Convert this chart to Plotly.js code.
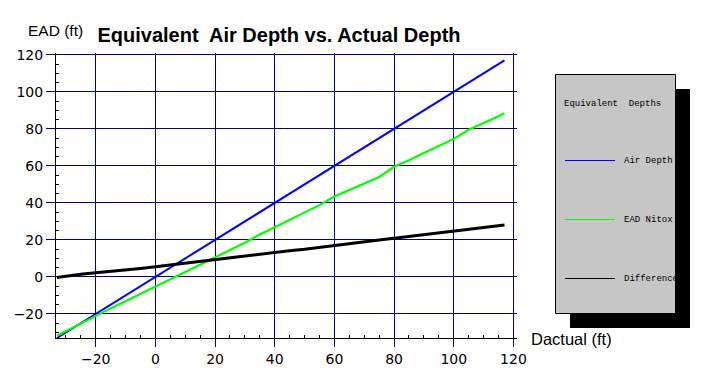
<!DOCTYPE html>
<html>
<head>
<meta charset="utf-8">
<script src="https://cdn.plot.ly/plotly-3.0.1.min.js"></script>
<style>html,body{margin:0;padding:0;background:#fff;}#chart{width:709px;height:388px;}</style>
</head>
<body>
<div id="chart"></div>
<script>
// ---- data ----
var actualDepth = [-33, -30, -25, -20, -15, -10, -5, 0, 5, 10, 15, 20, 25, 30, 35, 40, 45, 50, 55, 60, 65, 70, 75, 80, 85, 90, 95, 100, 105, 110, 115, 117];
var airDepth    = [-33, -30, -25, -20, -15, -10, -5, 0, 5, 10, 15, 20, 25, 30, 35, 40, 45, 50, 55, 60, 65, 70, 75, 80, 85, 90, 95, 100, 105, 110, 115, 117];
var eadNitox    = [-31.8, -29.3, -25.3, -21.0, -17.0, -13.2, -9.3, -5.4, -1.5, 2.5, 6.5, 10.3, 14.5, 18.5, 22.9, 26.8, 30.8, 34.5, 38.8, 43.5, 47.0, 50.5, 54.0, 59.5, 63.0, 67.0, 70.8, 74.6, 79.5, 83.0, 86.8, 88.4];
var difference  = [-0.3, 0.5, 1.5, 2.3, 3.0, 3.8, 4.6, 5.5, 6.5, 7.5, 8.5, 9.5, 10.4, 11.4, 12.3, 13.3, 14.2, 15.0, 15.9, 16.8, 17.8, 18.7, 19.9, 20.9, 21.9, 22.9, 23.9, 24.8, 25.8, 26.7, 27.6, 28.0];
var seriesNames = ["Air Depth", "EAD Nitox", "Difference"];
var seriesColors = ["#0000ff", "#00ff00", "#000000"];
var chartTitle = "Equivalent  Air Depth vs. Actual Depth";
var xTitle = "Dactual (ft)";
var yTitle = "EAD (ft)";
var legendTitle = "Equivalent  Depths";

// ---- layout geometry (pixels) ----
var W = 709, H = 388;
var M = {l: 56, r: 192, t: 53, b: 50};
var PW = W - M.l - M.r, PH = H - M.t - M.b;
function px(x) { return (x - M.l) / PW; }
function py(y) { return (H - M.b - y) / PH; }

var widths = [2, 2.2, 3];
var ys = [airDepth, eadNitox, difference];
var traces = ys.map(function (v, i) {
  return {
    x: actualDepth, y: v, type: "scatter", mode: "lines", name: seriesNames[i],
    line: {color: seriesColors[i], width: widths[i]}, showlegend: false
  };
});

var font = "Liberation Sans, Arial, sans-serif";
var tickFontFamily = "DejaVu Sans, sans-serif";
var mono = "Liberation Mono, Courier New, monospace";

var shapes = [
  {type: "rect", xref: "paper", yref: "paper", x0: px(570), x1: px(690), y0: py(89), y1: py(328),
   fillcolor: "#000000", line: {width: 0}, layer: "above"},
  {type: "rect", xref: "paper", yref: "paper", x0: px(555.5), x1: px(675.5), y0: py(74.5), y1: py(313.5),
   fillcolor: "#c6c6c6", line: {color: "#000000", width: 1}, layer: "above"}
];
var annotations = [
  {text: yTitle, xref: "paper", yref: "paper", x: px(26), y: py(31), xanchor: "left", yanchor: "middle",
   showarrow: false, font: {family: font, size: 15.5, color: "#000"}},
  {text: xTitle, xref: "paper", yref: "paper", x: px(529), y: py(339), xanchor: "left", yanchor: "middle",
   showarrow: false, font: {family: font, size: 16.5, color: "#000"}},
  {text: legendTitle, xref: "paper", yref: "paper", x: px(612), y: py(104), xanchor: "center", yanchor: "middle",
   showarrow: false, font: {family: mono, size: 9, color: "#000"}}
];
var legendY = [160.5, 219.5, 278.5];
seriesNames.forEach(function (n, i) {
  shapes.push({type: "line", xref: "paper", yref: "paper", x0: px(565), x1: px(615), y0: py(legendY[i]), y1: py(legendY[i]),
    line: {color: seriesColors[i], width: 1}, layer: "above"});
  annotations.push({text: n, xref: "paper", yref: "paper", x: px(622), y: py(legendY[i]), xanchor: "left", yanchor: "middle",
    showarrow: false, font: {family: mono, size: 9, color: "#000"}});
});

var axisCommon = {
  showgrid: true, gridcolor: "#000080", gridwidth: 1, zeroline: false,
  showline: true, linecolor: "#000000", linewidth: 1,
  ticks: "outside", tickcolor: "#000080", tickwidth: 1,
  dtick: 20, tick0: 0,
  tickfont: {family: tickFontFamily, size: 14, color: "#000"},
  minor: {ticks: "inside", ticklen: 3, dtick: 5, tick0: 0, tickcolor: "#000000", showgrid: false}
};

var layout = {
  width: W, height: H, margin: M,
  paper_bgcolor: "#ffffff", plot_bgcolor: "#ffffff",
  title: {text: chartTitle, x: 279 / W, xanchor: "center", y: 1 - 35 / H, yanchor: "middle",
          font: {family: font, size: 20, weight: "bold", color: "#000"}},
  xaxis: Object.assign({}, axisCommon, {range: [-33.3, 121.2], ticklen: 8}),
  yaxis: Object.assign({}, axisCommon, {range: [-33, 121], ticklen: 9}),
  shapes: shapes, annotations: annotations, showlegend: false
};

Plotly.newPlot("chart", traces, layout, {staticPlot: true, displayModeBar: false});
</script>
</body>
</html>
